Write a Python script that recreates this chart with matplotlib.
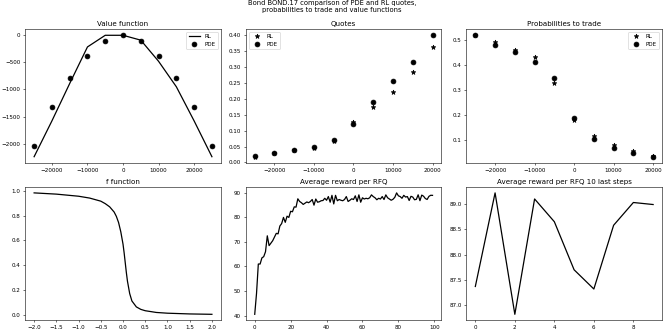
import matplotlib
matplotlib.use("Agg")
import matplotlib.pyplot as plt

# ---------------- data ----------------
inventory_vf = [-25000, -20000, -15000, -10000, -5000, 0, 5000, 10000, 15000, 20000, 25000]
vf_rl = [-2240, -1580, -890, -215, 0, 0, -90, -480, -950, -1580, -2240]
vf_pde = [-2040, -1320, -790, -380, -110, 0, -110, -380, -790, -1320, -2040]

inventory_q = [-25000, -20000, -15000, -10000, -5000, 0, 5000, 10000, 15000, 20000]
quotes_rl = [0.018, 0.029, 0.038, 0.045, 0.067, 0.127, 0.175, 0.222, 0.284, 0.363]
quotes_pde = [0.019, 0.030, 0.039, 0.049, 0.069, 0.122, 0.190, 0.255, 0.315, 0.400]

proba_rl = [0.517, 0.489, 0.460, 0.432, 0.328, 0.178, 0.113, 0.078, 0.054, 0.035]
proba_pde = [0.517, 0.480, 0.450, 0.410, 0.347, 0.187, 0.101, 0.065, 0.047, 0.032]

f_x = [-2.0, -1.5, -1.0, -0.75, -0.5, -0.4, -0.3, -0.2, -0.15, -0.1, -0.05, 0.0,
       0.025, 0.05, 0.075, 0.1, 0.15, 0.2, 0.3, 0.4, 0.5, 0.75, 1.0, 1.5, 2.0]
f_y = [0.985, 0.975, 0.958, 0.943, 0.918, 0.898, 0.872, 0.83, 0.795, 0.745, 0.67, 0.57,
       0.5, 0.42, 0.34, 0.27, 0.17, 0.11, 0.062, 0.042, 0.031, 0.017, 0.011, 0.005, 0.002]

reward = [40.5, 49, 61, 61, 63.5, 64, 66, 72.5, 68.5, 69.5,
          70.5, 72, 73.5, 73.3, 76.5, 77.5, 80, 78, 80.5, 80,
          82.5, 82.3, 84.3, 84.2, 87.6, 86.5, 86, 85.3, 85.8, 86.3,
          86, 86.5, 87.3, 85, 87.5, 86.2, 86.4, 86.8, 86.9, 87.8,
          87, 88.5, 86.2, 89, 85.5, 89, 86.8, 87.3, 87, 86.8,
          87.3, 88.5, 86.5, 87, 87.6, 87.3, 88.8, 86.5, 89.2, 86.2,
          88, 87.5, 87.8, 87.6, 88, 89.2, 88.5, 88, 87.2, 87.8,
          87.5, 88.5, 87.3, 89.2, 88, 87.5, 87, 87.4, 88.2, 90,
          88.8, 88.5, 87.8, 89, 88.3, 88.5, 86.9, 88.6, 88.3, 87.2,
          87.37, 89.22, 86.82, 89.1, 88.65, 87.7, 87.32, 88.58, 89.03, 88.99]
last_steps = [87.37, 89.22, 86.82, 89.1, 88.65, 87.7, 87.32, 88.58, 89.03, 88.99]

# ---------------- figure ----------------
plt.rcParams['font.family'] = ['DejaVu Sans']
plt.rcParams['xtick.labelsize'] = 8.2
plt.rcParams['ytick.labelsize'] = 8.2
plt.rcParams['axes.titlesize'] = 10.2
plt.rcParams['legend.fontsize'] = 8.2
plt.rcParams['lines.markersize'] = 7
plt.rcParams['lines.linewidth'] = 1.8

fig, axes = plt.subplots(2, 3, figsize=(13.28, 6.64), dpi=50)
fig.subplots_adjust(left=0.038, right=0.997, top=0.912, bottom=0.035,
                    wspace=0.128, hspace=0.18)

ax = axes[0, 0]
ax.plot(inventory_vf, vf_rl, color='black', label='RL')
ax.plot(inventory_vf, vf_pde, 'o', color='black', label='PDE')
ax.set_title('Value function', pad=4)
ax.legend(loc='upper right')

ax = axes[0, 1]
ax.plot(inventory_q, quotes_rl, '*', color='black', label='RL')
ax.plot(inventory_q, quotes_pde, 'o', color='black', label='PDE')
ax.set_title('Quotes', pad=4)
ax.legend(loc='upper left')

ax = axes[0, 2]
ax.plot(inventory_q, proba_rl, '*', color='black', label='RL')
ax.plot(inventory_q, proba_pde, 'o', color='black', label='PDE')
ax.set_title('Probabilities to trade', pad=4)
ax.legend(loc='upper right')

ax = axes[1, 0]
ax.plot(f_x, f_y, color='black')
ax.set_title('f function', pad=4)

ax = axes[1, 1]
ax.plot(range(len(reward)), reward, color='black')
ax.set_title('Average reward per RFQ', pad=4)

ax = axes[1, 2]
ax.plot(range(len(last_steps)), last_steps, color='black')
ax.set_title('Average reward per RFQ 10 last steps', pad=4)

fig.suptitle('Bond BOND.17 comparison of PDE and RL quotes,\nprobabilities to trade and value functions',
             y=1.0, fontsize=9.8, linespacing=1.15)

fig.savefig('out.png', dpi=50)
